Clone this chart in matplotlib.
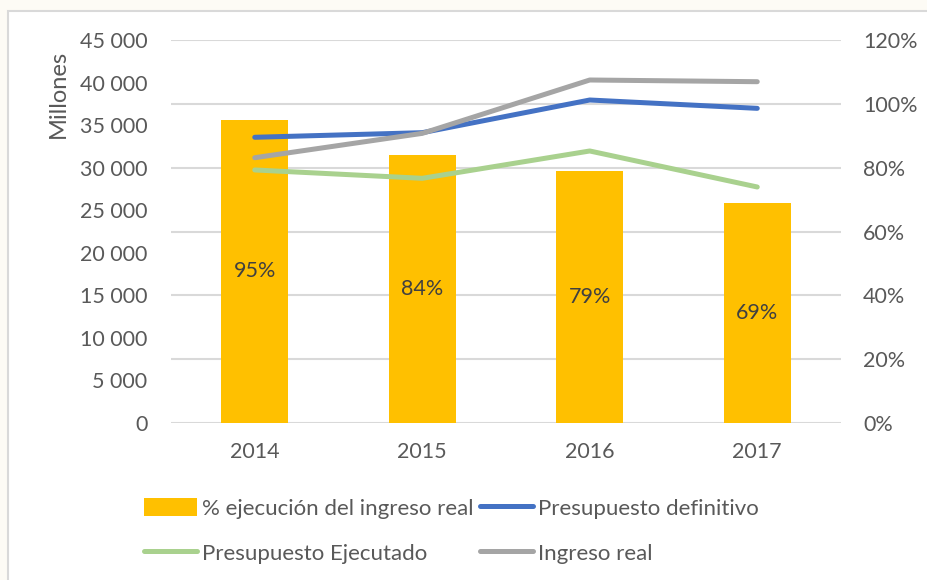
import matplotlib.pyplot as plt
from matplotlib.patches import Rectangle
from matplotlib.ticker import FuncFormatter
import numpy as np

# data (millones)
years = ['2014', '2015', '2016', '2017']
pct_ejecucion = [95, 84, 79, 69]
presupuesto_definitivo = [33570, 34110, 37950, 36970]
presupuesto_ejecutado = [29730, 28750, 31960, 27730]
ingreso_real = [31170, 34030, 40300, 40100]

txt = '#595959'
plt.rcParams['font.family'] = ['Lato', 'DejaVu Sans']
plt.rcParams['font.size'] = 15

fig = plt.figure(figsize=(9.27, 5.80), dpi=100, facecolor='#fdfbf5')
# chart area frame
fig.patches.append(Rectangle((8 / 927, -0.05), 1.0, 1 - 11 / 580 + 0.05,
                             transform=fig.transFigure, facecolor='white',
                             edgecolor='#d9d9d9', linewidth=1.5, zorder=-5))

ax = fig.add_axes([171 / 927, 1 - 423 / 580, 670 / 927, 383 / 580])
ax2 = ax.twinx()
ax.patch.set_visible(False)
ax2.patch.set_visible(False)
x = np.arange(len(years))

# bars on secondary axis
ax2.bar(x, pct_ejecucion, width=0.4, color='#ffc000', zorder=2,
        label='% ejecución del ingreso real')
for xi, v in zip(x, pct_ejecucion):
    ax2.text(xi, v / 2, f'{v}%', ha='center', va='center', color='#404040',
             fontsize=15.5)

# lines on primary axis, drawn above bars
ax.set_zorder(ax2.get_zorder() + 1)
l1, = ax.plot(x, presupuesto_definitivo, color='#4472c4', lw=3.6,
              solid_capstyle='round', label='Presupuesto definitivo')
l2, = ax.plot(x, presupuesto_ejecutado, color='#a9d18e', lw=3.6,
              solid_capstyle='round', label='Presupuesto Ejecutado')
l3, = ax.plot(x, ingreso_real, color='#a5a5a5', lw=3.6,
              solid_capstyle='round', label='Ingreso real')

ax.set_xlim(-0.5, 3.5)
ax.set_ylim(0, 45000)
ax.set_yticks(np.arange(0, 45001, 5000))
ax.yaxis.set_major_formatter(FuncFormatter(lambda v, p: f'{int(v):,}'.replace(',', ' ')))
ax2.set_ylim(0, 120)
ax2.set_yticks(np.arange(0, 121, 20))
ax2.yaxis.set_major_formatter(FuncFormatter(lambda v, p: f'{int(v)}%'))

ax2.yaxis.grid(True, color='#d9d9d9', lw=1.5)
ax2.set_axisbelow(True)

ax.set_xticks(x)
ax.set_xticklabels(years)
for a in (ax, ax2):
    for s in a.spines.values():
        s.set_visible(False)
ax.tick_params(axis='both', length=0, colors=txt, labelsize=15.5)
ax.tick_params(axis='y', pad=17)
ax.tick_params(axis='x', pad=14)
ax2.tick_params(axis='y', length=0, colors=txt, labelsize=15.5, pad=16)

fig.text(58 / 927, 1 - 94 / 580, 'Millones', rotation=90, ha='center',
         va='center', color=txt, fontsize=17)

bar_handle = ax2.containers[0]
handles = [bar_handle, l2, l1, l3]
labels = [h.get_label() for h in handles]
fig.legend(handles, labels, ncol=2, loc='upper left',
           bbox_to_anchor=(144 / 927, 1 - 498 / 580), frameon=False,
           borderpad=0, borderaxespad=0, handlelength=2.4, handleheight=0.85,
           handletextpad=0.2, columnspacing=0.3, labelspacing=1.1,
           labelcolor=txt, fontsize=16)

fig.savefig('out.png', dpi=100, facecolor=fig.get_facecolor())
